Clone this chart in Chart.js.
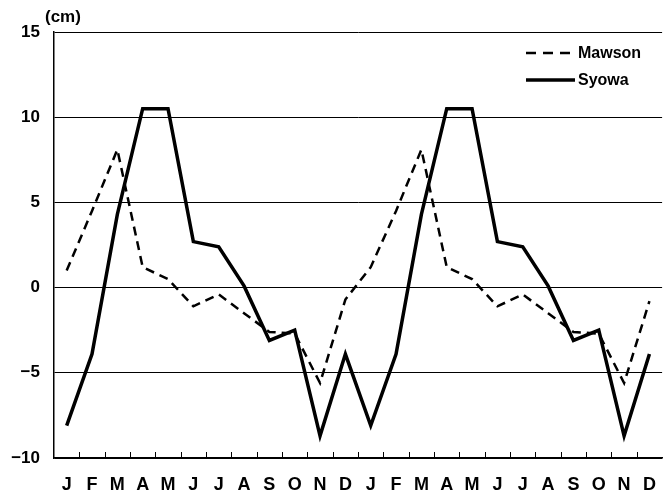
<!DOCTYPE html>
<html>
<head>
<meta charset="utf-8">
<script src="https://cdn.jsdelivr.net/npm/chart.js@4/dist/chart.umd.min.js"></script>
<style>
  html, body { margin: 0; padding: 0; background: #fff; overflow: hidden; }
  #wrap { width: 672px; height: 497px; }
</style>
</head>
<body>
<div id="wrap"><canvas id="chart" width="672" height="497"></canvas></div>
<script>
// month labels, two years side by side
const months = ['J', 'F', 'M', 'A', 'M', 'J', 'J', 'A', 'S', 'O', 'N', 'D',
                'J', 'F', 'M', 'A', 'M', 'J', 'J', 'A', 'S', 'O', 'N', 'D'];

// values in cm
const mawson = [1.0, 4.5, 8.1, 1.2, 0.5, -1.1, -0.4, -1.5, -2.6, -2.7, -5.6, -0.7,
                1.2, 4.5, 8.1, 1.2, 0.5, -1.1, -0.4, -1.5, -2.6, -2.7, -5.6, -0.8];
const syowa = [-8.1, -3.9, 4.3, 10.5, 10.5, 2.7, 2.4, 0.1, -3.1, -2.5, -8.7, -3.9,
               -8.1, -3.9, 4.3, 10.5, 10.5, 2.7, 2.4, 0.1, -3.1, -2.5, -8.7, -3.9];

const yTicks = [15, 10, 5, 0, -5, -10];
const unitLabel = '(cm)';

const FONT = 'Liberation Sans, Arial, sans-serif';

// small tick marks pointing up into the plot, unit label and legend box
const extras = {
  id: 'extras',
  afterDraw(chart) {
    const c = chart.ctx;
    const x = chart.scales.x;
    const area = chart.chartArea;
    c.save();
    c.strokeStyle = '#000';
    c.lineWidth = 1;
    for (let i = 1; i < months.length; i++) {
      const px = Math.round((x.getPixelForValue(i - 1) + x.getPixelForValue(i)) / 2) + 0.5;
      c.beginPath();
      c.moveTo(px, area.bottom);
      c.lineTo(px, area.bottom - 6);
      c.stroke();
    }

    c.fillStyle = '#000';
    c.font = 'bold 17px ' + FONT;
    c.textBaseline = 'middle';
    c.textAlign = 'left';
    c.fillText(unitLabel, 45, 17);

    // legend
    const items = [
      { label: 'Mawson', dash: [10, 7], width: 2.5 },
      { label: 'Syowa', dash: [], width: 3.5 }
    ];
    items.forEach((it, k) => {
      const y = 53 + k * 27;
      c.beginPath();
      c.setLineDash(it.dash);
      c.lineWidth = it.width;
      c.moveTo(526, y);
      c.lineTo(575, y);
      c.stroke();
      c.setLineDash([]);
      c.font = 'bold 16px ' + FONT;
      c.fillText(it.label, 578, y + 1);
    });
    c.restore();
  }
};

new Chart(document.getElementById('chart'), {
  type: 'line',
  data: {
    labels: months,
    datasets: [
      {
        label: 'Mawson',
        data: mawson,
        borderColor: '#000',
        borderWidth: 2.5,
        borderDash: [9, 6],
        pointRadius: 0,
        tension: 0,
        fill: false
      },
      {
        label: 'Syowa',
        data: syowa,
        borderColor: '#000',
        borderWidth: 3.5,
        pointRadius: 0,
        tension: 0,
        fill: false
      }
    ]
  },
  options: {
    responsive: false,
    animation: false,
    layout: { padding: { top: 32, right: 3, left: 0, bottom: 0 } },
    plugins: {
      legend: { display: false },
      tooltip: { enabled: false }
    },
    scales: {
      x: {
        offset: true,
        grid: { display: false, drawTicks: false },
        border: { display: true, color: '#000', width: 1.5 },
        ticks: {
          color: '#000',
          font: { family: FONT, size: 18, weight: 'bold' },
          padding: 16,
          maxRotation: 0,
          autoSkip: false
        },
        afterFit(scale) { scale.height = 39; }
      },
      y: {
        min: -10,
        max: 15,
        afterBuildTicks(scale) { scale.ticks = yTicks.map(v => ({ value: v })); },
        grid: { color: '#000', lineWidth: 1, drawTicks: false },
        border: { display: true, color: '#000', width: 1.5 },
        ticks: {
          color: '#000',
          font: { family: FONT, size: 17, weight: 'bold' },
          padding: 14,
          callback: v => String(v).replace('-', '\u2212')
        },
        afterFit(scale) { scale.width = 54; }
      }
    }
  },
  plugins: [extras]
});
</script>
</body>
</html>
